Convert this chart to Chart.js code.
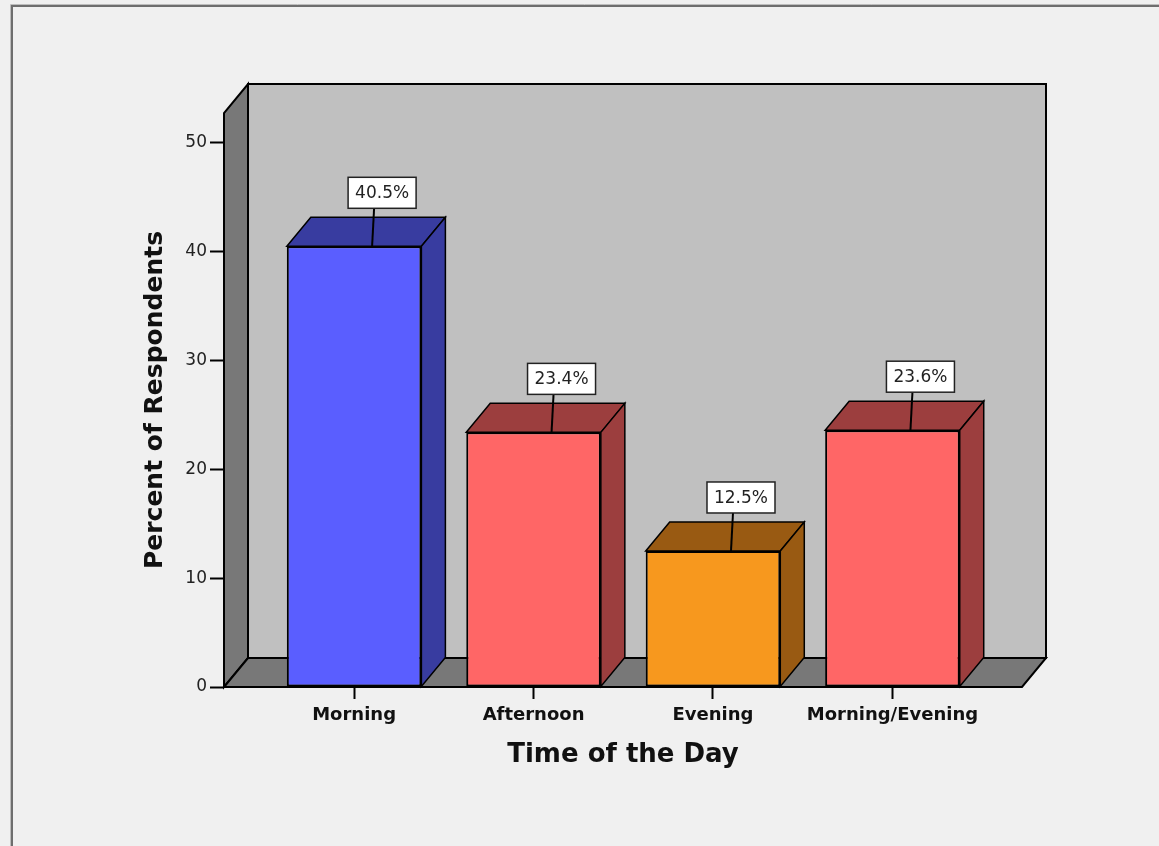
<!DOCTYPE html>
<html>
<head>
<meta charset="utf-8">
<script src="https://cdn.jsdelivr.net/npm/chart.js@4/dist/chart.umd.min.js"></script>
<style>
  html, body { margin: 0; padding: 0; background: #f0f0f0; }
  #wrap { width: 1159px; height: 846px; }
</style>
</head>
<body>
<div id="wrap"><canvas id="c" width="1159" height="846"></canvas></div>
<script>
// Time of day preferred by respondents (percent)
const categories = ['Morning', 'Afternoon', 'Evening', 'Morning/Evening'];
const percents = [40.5, 23.4, 12.5, 23.6];
const yTickValues = [0, 10, 20, 30, 40, 50];

// Face colours: front faces and the darker top/side faces
const frontColors = ['#5a5eff', '#ff6666', '#f7981e', '#ff6666'];
const shadeColors = ['#383ca0', '#9c3e3e', '#995a12', '#9c3e3e'];

// Depth of the pseudo-3D box (pixels to the back plane)
const DEPTH_X = 24;
const DEPTH_Y = -29;

function poly(ctx, pts, fill) {
  ctx.beginPath();
  ctx.moveTo(pts[0][0], pts[0][1]);
  for (let i = 1; i < pts.length; i++) ctx.lineTo(pts[i][0], pts[i][1]);
  ctx.closePath();
  ctx.fillStyle = fill;
  ctx.fill();
  ctx.stroke();
}

const framePlugin = {
  id: 'frame',
  beforeDraw(chart) {
    const ctx = chart.ctx;
    ctx.save();
    ctx.fillStyle = '#f0f0f0';
    ctx.fillRect(0, 0, chart.width, chart.height);
    ctx.strokeStyle = '#bdbdbd';
    ctx.lineWidth = 1;
    ctx.beginPath();
    ctx.moveTo(10.5, chart.height);
    ctx.lineTo(10.5, 4.5);
    ctx.lineTo(chart.width, 4.5);
    ctx.stroke();
    ctx.strokeStyle = '#6e6e6e';
    ctx.lineWidth = 2;
    ctx.beginPath();
    ctx.moveTo(12, chart.height);
    ctx.lineTo(12, 6);
    ctx.lineTo(chart.width, 6);
    ctx.stroke();
    ctx.restore();
  }
};

const boxPlugin = {
  id: 'box3d',
  beforeDatasetsDraw(chart) {
    const ctx = chart.ctx;
    const { left: L, right: R, top: T, bottom: B } = chart.chartArea;
    ctx.save();
    ctx.strokeStyle = '#000';
    ctx.lineWidth = 2;
    ctx.lineJoin = 'miter';
    // back wall
    poly(ctx, [[L + DEPTH_X, T + DEPTH_Y], [R + DEPTH_X, T + DEPTH_Y], [R + DEPTH_X, B + DEPTH_Y], [L + DEPTH_X, B + DEPTH_Y]], '#c0c0c0');
    // left wall
    poly(ctx, [[L, B], [L, T], [L + DEPTH_X, T + DEPTH_Y], [L + DEPTH_X, B + DEPTH_Y]], '#787878');
    // floor
    poly(ctx, [[L, B], [R, B], [R + DEPTH_X, B + DEPTH_Y], [L + DEPTH_X, B + DEPTH_Y]], '#787878');

    // top and side faces of every bar
    const meta = chart.getDatasetMeta(0);
    meta.data.forEach((bar, i) => {
      const { x, y, base, width } = bar.getProps(['x', 'y', 'base', 'width'], true);
      const x0 = x - width / 2, x1 = x + width / 2;
      ctx.lineWidth = 1.5;
      poly(ctx, [[x0, y], [x1, y], [x1 + DEPTH_X, y + DEPTH_Y], [x0 + DEPTH_X, y + DEPTH_Y]], shadeColors[i]);
      poly(ctx, [[x1, y], [x1 + DEPTH_X, y + DEPTH_Y], [x1 + DEPTH_X, base + DEPTH_Y], [x1, base]], shadeColors[i]);
    });
    ctx.restore();
  },
  afterDatasetsDraw(chart) {
    const ctx = chart.ctx;
    const meta = chart.getDatasetMeta(0);
    ctx.save();
    ctx.font = '17px "DejaVu Sans"';
    ctx.textAlign = 'center';
    ctx.textBaseline = 'middle';
    meta.data.forEach((bar, i) => {
      const { x, y } = bar.getProps(['x', 'y'], true);
      const text = percents[i].toFixed(1) + '%';
      const tw = ctx.measureText(text).width;
      const bw = tw + 14, bh = 31;
      const cx = x + 28;
      const boxBottom = y - 38;
      // leader line from the bar top to the label
      ctx.strokeStyle = '#000';
      ctx.lineWidth = 2;
      ctx.beginPath();
      ctx.moveTo(x + 18, y);
      ctx.lineTo(x + 20, boxBottom);
      ctx.stroke();
      // label box
      ctx.fillStyle = '#ffffff';
      ctx.fillRect(cx - bw / 2, boxBottom - bh, bw, bh);
      ctx.lineWidth = 1.5;
      ctx.strokeStyle = '#222';
      ctx.strokeRect(cx - bw / 2, boxBottom - bh, bw, bh);
      ctx.fillStyle = '#222';
      ctx.fillText(text, cx, boxBottom - bh / 2 + 1);
    });
    ctx.restore();
  }
};

new Chart(document.getElementById('c'), {
  type: 'bar',
  data: {
    datasets: [{
      data: categories.map((c, i) => ({ x: i, y: percents[i] })),
      backgroundColor: frontColors,
      borderColor: '#000',
      borderWidth: 2,
      borderSkipped: false,
      categoryPercentage: 1,
      barPercentage: 0.75
    }]
  },
  options: {
    responsive: false,
    animation: false,
    events: [],
    layout: { padding: { left: 135, right: 137, top: 113, bottom: 69 } },
    plugins: { legend: { display: false }, tooltip: { enabled: false } },
    scales: {
      x: {
        type: 'linear',
        min: -0.725,
        max: 3.722,
        offset: false,
        grid: { display: true, offset: false, drawOnChartArea: false, tickLength: 12, tickColor: '#000', tickWidth: 2 },
        border: { display: false },
        ticks: {
          stepSize: 1,
          includeBounds: false,
          autoSkip: false,
          maxRotation: 0,
          padding: 6,
          color: '#111',
          font: { family: 'DejaVu Sans', size: 18, weight: 'bold' },
          callback: (v) => categories[v] ?? ''
        },
        title: {
          display: true,
          text: 'Time of the Day',
          color: '#111',
          font: { family: 'DejaVu Sans', size: 26, weight: 'bold' },
          padding: { top: 0, bottom: 6 }
        },
        afterFit: (s) => { s.height = 90; }
      },
      y: {
        min: 0,
        max: 52.75,
        grid: { display: true, drawOnChartArea: false, tickLength: 14, tickColor: '#000', tickWidth: 2 },
        border: { display: false },
        afterBuildTicks: (s) => { s.ticks = yTickValues.map(v => ({ value: v })); },
        ticks: {
          padding: 3,
          color: '#222',
          font: { family: 'DejaVu Sans', size: 17 }
        },
        title: {
          display: true,
          text: 'Percent of Respondents',
          color: '#111',
          font: { family: 'DejaVu Sans', size: 25, weight: 'bold' },
          padding: { top: 5, bottom: 0 }
        },
        afterFit: (s) => { s.width = 89; }
      }
    }
  },
  plugins: [framePlugin, boxPlugin]
});
</script>
</body>
</html>
